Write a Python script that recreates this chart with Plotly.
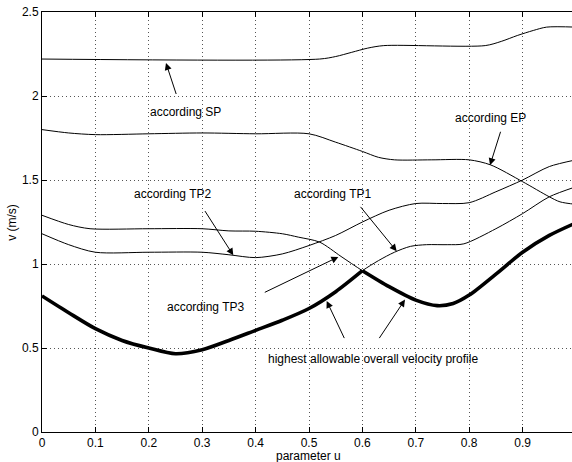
import plotly.graph_objects as go

# Velocity limits v(u) along the path parameter u
u_sp = [0.0, 0.52, 0.55, 0.58, 0.61, 0.64, 0.83, 0.86, 0.89, 0.92, 0.945, 1.0]
v_sp = [2.22, 2.22, 2.235, 2.26, 2.285, 2.30, 2.30, 2.325, 2.36, 2.39, 2.41, 2.41]

u_ep = [0.0, 0.05, 0.1, 0.2, 0.3, 0.4, 0.5, 0.55, 0.6, 0.63, 0.66, 0.73, 0.8, 0.84, 0.9, 0.95, 0.97, 1.0]
v_ep = [1.80, 1.78, 1.77, 1.775, 1.78, 1.775, 1.775, 1.725, 1.67, 1.635, 1.62, 1.62, 1.62, 1.59, 1.49, 1.40, 1.37, 1.355]

u_tp1 = [0.0, 0.05, 0.1, 0.15, 0.2, 0.25, 0.3, 0.35, 0.4, 0.45, 0.5, 0.55, 0.6, 0.63, 0.66, 0.69, 0.72, 0.76, 0.79, 0.85, 0.9, 0.95, 1.0]
v_tp1 = [0.81, 0.71, 0.615, 0.545, 0.50, 0.466, 0.49, 0.545, 0.605, 0.665, 0.735, 0.835, 0.96, 1.02, 1.07, 1.105, 1.115, 1.115, 1.12, 1.21, 1.30, 1.40, 1.46]

u_tp2 = [0.0, 0.05, 0.1, 0.2, 0.3, 0.35, 0.4, 0.45, 0.5, 0.55, 0.6, 0.65, 0.7, 0.75, 0.8, 0.85, 0.9, 0.95, 1.0]
v_tp2 = [1.18, 1.115, 1.07, 1.07, 1.07, 1.055, 1.038, 1.06, 1.11, 1.17, 1.25, 1.32, 1.36, 1.36, 1.365, 1.43, 1.50, 1.58, 1.62]

u_tp3 = [0.0, 0.05, 0.09, 0.2, 0.3, 0.35, 0.4, 0.45, 0.48, 0.52, 0.56, 0.6, 0.65, 0.7, 0.74, 0.77, 0.8, 0.85, 0.9, 0.95, 1.0]
v_tp3 = [1.29, 1.235, 1.21, 1.21, 1.21, 1.197, 1.195, 1.18, 1.16, 1.13, 1.045, 0.96, 0.865, 0.785, 0.752, 0.765, 0.815, 0.94, 1.07, 1.17, 1.245]

# Overall profile: TP1 up to the crossing, TP3 after it
u_cross = 0.6

x_ticks = [0, 0.1, 0.2, 0.3, 0.4, 0.5, 0.6, 0.7, 0.8, 0.9]
y_ticks = [0, 0.5, 1, 1.5, 2, 2.5]

FONT = "Liberation Sans, Arial, sans-serif"

fig = go.Figure()

thin = dict(color="black", width=1, shape="spline", smoothing=0.8)
for uu, vv in [(u_sp, v_sp), (u_ep, v_ep), (u_tp1, v_tp1), (u_tp2, v_tp2), (u_tp3, v_tp3)]:
    fig.add_trace(go.Scatter(x=uu, y=vv, mode="lines", line=thin, hoverinfo="skip"))

left_u = [u for u in u_tp1 if u <= u_cross]
left_v = [v for u, v in zip(u_tp1, v_tp1) if u <= u_cross]
right_u = [u for u in u_tp3 if u >= u_cross]
right_v = [v for u, v in zip(u_tp3, v_tp3) if u >= u_cross]
thick = dict(color="black", width=3.6, shape="spline", smoothing=0.8)
fig.add_trace(go.Scatter(x=left_u, y=left_v, mode="lines", line=thick, hoverinfo="skip"))
fig.add_trace(go.Scatter(x=right_u, y=right_v, mode="lines", line=thick, hoverinfo="skip"))

labels = [
    ("according SP", 0.1985, 1.905),
    ("according EP", 0.7702, 1.867),
    ("according TP2", 0.168, 1.415),
    ("according TP1", 0.4676, 1.415),
    ("according TP3", 0.2303, 0.744),
    ("highest allowable overall velocity profile", 0.4195, 0.433),
]
for txt, x, y in labels:
    fig.add_annotation(x=x, y=y, text=txt, showarrow=False, xanchor="left",
                       yanchor="middle", font=dict(family=FONT, size=12, color="black"))

# arrows: (tail u, tail v, head u, head v)
arrows = [
    (0.2522, 2.003, 0.2322, 2.196),
    (0.8596, 1.796, 0.8390, 1.588),
    (0.3034, 1.324, 0.3582, 1.052),
    (0.5942, 1.349, 0.6642, 1.076),
    (0.4144, 0.827, 0.5549, 1.042),
    (0.5674, 0.550, 0.5331, 0.780),
    (0.6298, 0.550, 0.6798, 0.788),
]
for tx, ty, hx, hy in arrows:
    fig.add_annotation(x=hx, y=hy, ax=tx, ay=ty, xref="x", yref="y", axref="x", ayref="y",
                       text="", showarrow=True, arrowhead=2, arrowsize=1.4,
                       arrowwidth=1, arrowcolor="black", standoff=0, startstandoff=0)

fig.add_annotation(x=0.503, y=-0.058, xref="paper", yref="paper", text="parameter u",
                   showarrow=False, xanchor="center", yanchor="middle",
                   font=dict(family=FONT, size=12, color="black"))
fig.add_annotation(x=-0.057, y=0.50, xref="paper", yref="paper", text="v (m/s)",
                   showarrow=False, textangle=-90, xanchor="center", yanchor="middle",
                   font=dict(family=FONT, size=12, color="black"))

fig.update_layout(
    width=572, height=462,
    margin=dict(l=42, r=0, t=12, b=30),
    paper_bgcolor="white", plot_bgcolor="white",
    showlegend=False,
    font=dict(family=FONT, size=12, color="black"),
)
grid = dict(showgrid=True, gridcolor="#555", griddash="1px,3px", gridwidth=1)
fig.update_xaxes(
    range=[0, 530 / 534], tickvals=x_ticks, ticktext=[str(t) for t in x_ticks],
    showline=True, linecolor="black", linewidth=1, mirror="ticks",
    ticks="inside", ticklen=5, tickcolor="black",
    zeroline=False, tickfont=dict(family=FONT, size=12, color="black"), **grid,
)
fig.update_yaxes(
    range=[0, 2.5], tickvals=y_ticks, ticktext=["0", "0.5", "1", "1.5", "2", "2.5"],
    showline=True, linecolor="black", linewidth=1,
    ticks="inside", ticklen=5, tickcolor="black",
    zeroline=False, tickfont=dict(family=FONT, size=12, color="black"), **grid,
)

fig.write_html("out.html")
